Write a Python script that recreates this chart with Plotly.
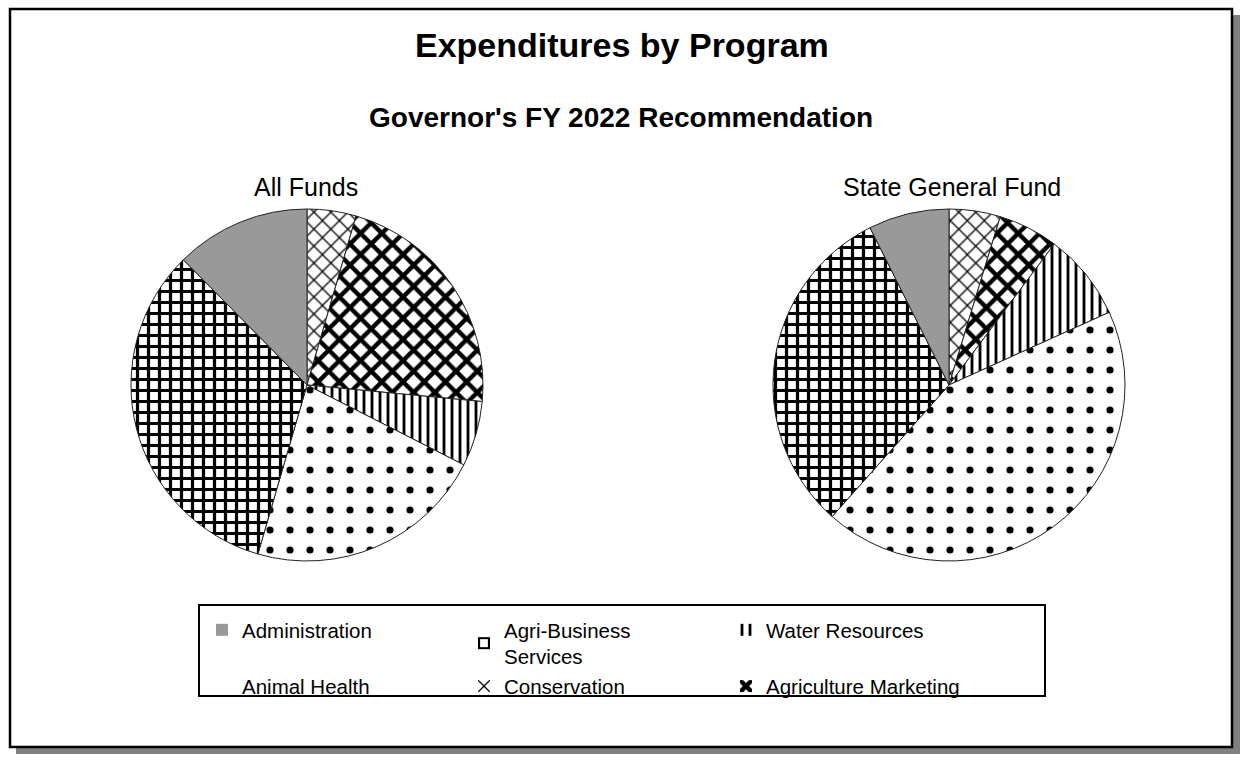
import plotly.graph_objects as go

# ---- data (percent shares) ----
slice_order = ["Conservation", "Agriculture Marketing", "Water Resources",
               "Animal Health", "Agri-Business Services", "Administration"]
all_funds = [4.5, 22.0, 6.0, 22.0, 33.1, 12.4]
state_general_fund = [4.7, 5.5, 8.0, 43.3, 31.0, 7.4]

legend_order = ["Administration", "Agri-Business Services", "Water Resources",
                "Animal Health", "Conservation", "Agriculture Marketing"]
legend_text = {"Agri-Business Services": "Agri-Business<br>Services"}

title_text = "Expenditures by Program"
subtitle_text = "Governor's FY 2022 Recommendation"
pie_titles = ["All Funds", "State General Fund"]

# ---- styles ----
FONT = "Liberation Sans, Arial, sans-serif"
style = {
    "Administration": dict(color="#999999", shape="", size=8, solidity=0.3),
    "Agri-Business Services": dict(color="white", shape="+", size=11, solidity=0.5),
    "Water Resources": dict(color="white", shape="|", size=8, solidity=0.35),
    "Animal Health": dict(color="white", shape=".", size=20, solidity=0.1),
    "Conservation": dict(color="white", shape="x", size=12, solidity=0.2),
    "Agriculture Marketing": dict(color="white", shape="x", size=15, solidity=0.5),
}


def marker_for(labels, line_width=1):
    return dict(
        colors=[style[l]["color"] for l in labels],
        pattern=dict(
            shape=[style[l]["shape"] for l in labels],
            size=[style[l]["size"] for l in labels],
            solidity=[style[l]["solidity"] for l in labels],
            fgcolor="black",
            bgcolor=[style[l]["color"] for l in labels],
            fgopacity=1,
            fillmode="replace",
        ),
        line=dict(color="#222222", width=line_width),
    )


W, H = 1241, 759
ML, MR = 100, 100
PW = W - ML - MR


def px(x):
    return (x - ML) / PW


def py(y):
    return 1 - y / H


fig = go.Figure()

# helper trace (drawn with zero size) that only fixes the legend order
fig.add_trace(go.Pie(
    labels=[legend_text.get(l, l) for l in legend_order],
    values=[all_funds[slice_order.index(l)] for l in legend_order],
    marker=marker_for(legend_order, line_width=0),
    sort=False, textinfo="none", hoverinfo="skip",
    domain=dict(x=[0, 0.0005], y=[0, 0.0005]),
))

for vals, dom in [(all_funds, [131, 483]), (state_general_fund, [773, 1125])]:
    fig.add_trace(go.Pie(
        labels=[legend_text.get(l, l) for l in slice_order],
        values=vals,
        marker=marker_for(slice_order),
        sort=False, direction="clockwise", rotation=0,
        textinfo="none",
        domain=dict(x=[px(dom[0]), px(dom[1])], y=[py(561), py(209)]),
    ))

shapes = [
    # shadow
    dict(type="rect", xref="paper", yref="paper", x0=px(16), x1=px(1240), y0=py(754), y1=py(15),
         fillcolor="#808080", line=dict(width=0), layer="below"),
    # frame
    dict(type="rect", xref="paper", yref="paper", x0=px(10), x1=px(1232), y0=py(747), y1=py(9),
         fillcolor="white", line=dict(color="black", width=2.5), layer="below"),
    # legend box
    dict(type="rect", xref="paper", yref="paper", x0=px(199), x1=px(1045), y0=py(696), y1=py(605),
         fillcolor="rgba(0,0,0,0)", line=dict(color="black", width=2), layer="below"),
]


def ann(text, x, y, size):
    return dict(text=text, x=px(x), y=py(y), xref="paper", yref="paper",
                xanchor="center", yanchor="middle", showarrow=False,
                font=dict(family=FONT, size=size, color="black"))


annotations = [
    ann("<b>%s</b>" % title_text, 622, 45, 34),
    ann("<b>%s</b>" % subtitle_text, 621, 117, 28),
    ann(pie_titles[0], 306, 187, 25),
    ann(pie_titles[1], 952, 187, 25),
]

fig.update_layout(
    width=W, height=H,
    margin=dict(l=ML, r=MR, t=0, b=0),
    paper_bgcolor="white",
    plot_bgcolor="white",
    shapes=shapes,
    annotations=annotations,
    showlegend=True,
    legend=dict(
        orientation="h", x=px(202), xanchor="left", y=py(610), yanchor="top",
        entrywidth=217, entrywidthmode="pixels",
        font=dict(family=FONT, size=20.5, color="black"),
        bgcolor="rgba(0,0,0,0)", borderwidth=0,
        traceorder="normal",
    ),
)

fig.write_html("out.html")
